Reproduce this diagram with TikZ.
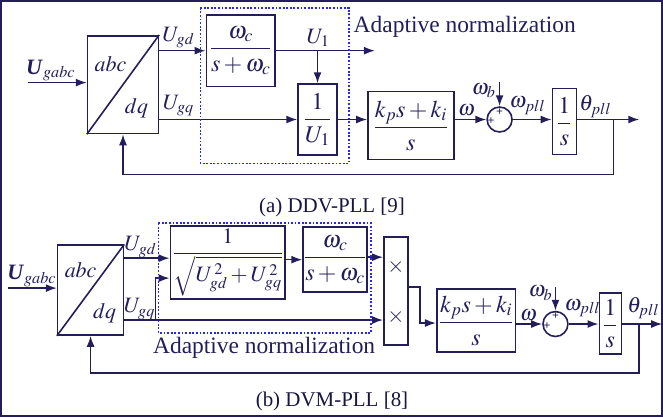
\documentclass[tikz,border=0pt]{standalone}
\usepackage{amsmath}
\usepackage{mathptmx}
\usepackage{fontspec}
\setmainfont{Liberation Serif}
\usetikzlibrary{arrows.meta,calc}
\definecolor{ink}{RGB}{35,30,90}
\definecolor{dotblue}{RGB}{40,40,235}
\begin{document}
\begin{tikzpicture}[x=1pt,y=-1pt,
  every path/.style={draw=ink,line width=1.6pt},
  blk/.style={draw=ink,line width=1.6pt,inner sep=0pt,text=ink,
    font=\fontsize{24}{25}\selectfont},
  sumc/.style={circle,draw=ink,line width=1.6pt,minimum size=25pt,inner sep=0pt},
  arr/.style={-{Latex[length=11pt,width=8pt]}},
  lbl/.style={text=ink,font=\fontsize{22}{23}\selectfont,inner sep=0pt},
  sgn/.style={text=ink,font=\fontsize{12}{12}\selectfont\bfseries,inner sep=0pt},
  normbox/.style={draw=dotblue,line width=1.6pt,dash pattern=on 1.8pt off 1.8pt},
  note/.style={text=ink,font=\rmfamily\fontsize{23.5}{25}\selectfont,inner sep=0pt},
  capt/.style={text=ink!70!black,font=\rmfamily\fontsize{21}{23}\selectfont,inner sep=0pt}]
\useasboundingbox (0,0) rectangle (663,416);

% ---------------- (a) DDV-PLL ----------------
\node[blk,minimum width=71pt,minimum height=98pt] (cvA) at (122.5,84) {};
\draw (cvA.south west) -- (cvA.north east);
\node[lbl] (abcA) at (110,63) {$abc$};
\node[lbl] (dqA) at (136,108) {$dq$};
\coordinate (inA) at (27,82);
\draw[arr] (inA) -- (inA -| cvA.west);
\node[lbl] (ugA) at (50,70) {$\textbf{\textit{U}}_{gabc}$};

\node[blk,minimum width=69pt,minimum height=72pt] (lpfA) at (240.5,50) {$\dfrac{\omega_c}{s+\omega_c}$};
\draw[arr] (cvA.east |- lpfA) -- (lpfA.west);
\node[lbl] (ugdA) at (178,37) {$U_{gd}$};

\node[blk,minimum width=39pt,minimum height=71pt] (invA) at (317.5,119) {$\dfrac{1}{U_1}$};
\draw[arr] (cvA.east |- invA) -- (invA.west);
\node[lbl] (ugqA) at (178,105) {$U_{gq}$};

\coordinate (u1A) at (375,50);
\draw[arr] (lpfA.east) -- (u1A);
\draw[arr] (invA.north |- lpfA) -- (invA.north);
\node[lbl] (u1lA) at (318,37) {$U_1$};

\draw[normbox] (200,7) rectangle (349,163);
\node[note,anchor=west] (anA) at (353,26) {Adaptive normalization};

\node[blk,minimum width=86pt,minimum height=68pt] (piA) at (411,125) {$\dfrac{k_p s+k_i}{s}$};
\draw[arr] (invA.east) -- (invA.east -| piA.west);

\node[sumc] (sumA) at (500,119) {};
\node[sgn] (spA) at (500,111.5) {+};
\node[sgn] (slA) at (491.5,121) {+};
\draw[arr] (piA.east |- sumA) -- (sumA.west);
\node[lbl] (wA) at (467,110) {$\omega$};
\coordinate (wbA) at (500,81);
\draw[arr] (wbA) -- (sumA.north);
\node[lbl] (wblA) at (484,90) {$\omega_b$};

\node[blk,minimum width=24pt,minimum height=66pt] (intA) at (565,121) {$\dfrac{1}{s}$};
\draw[arr] (sumA.east) -- (sumA.east -| intA.west);
\node[lbl] (wpA) at (528,105) {$\omega_{pll}$};

\coordinate (thA) at (640,119);
\draw[arr] (intA.east |- sumA) -- (thA);
\node[lbl] (thlA) at (596,106) {$\theta_{pll}$};
\coordinate (fbA) at (614,119);
\draw[arr] (fbA) -- (fbA |- 0,174) -| (cvA.south);

\node[capt] (capA) at (332,207) {(a) DDV-PLL [9]};

% ---------------- (b) DVM-PLL ----------------
\node[blk,minimum width=66pt,minimum height=90pt] (cvB) at (90,290) {};
\draw (cvB.south west) -- (cvB.north east);
\node[lbl] (abcB) at (80,270) {$abc$};
\node[lbl] (dqB) at (104,313) {$dq$};
\coordinate (inB) at (7,288);
\draw[arr] (inB) -- (inB -| cvB.west);
\node[lbl] (ugB) at (31,276) {$\textbf{\textit{U}}_{gabc}$};

\node[blk,font=\fontsize{22}{23}\selectfont,minimum width=115pt,minimum height=73pt] (nrmB) at (227.5,262.5)
  {$\dfrac{1}{\sqrt{U_{gd}^{\,2}+U_{gq}^{\,2}}}$};
\coordinate (dB) at (123,258);
\draw[arr] (dB) -- (dB -| nrmB.west);
\node[lbl] (ugdB) at (140,247) {$U_{gd}$};

\node[blk,minimum width=64pt,minimum height=65pt] (lpfB) at (335,259.5) {$\dfrac{\omega_c}{s+\omega_c}$};
\draw[arr] (nrmB.east |- lpfB) -- (lpfB.west);

\node[blk,minimum width=24pt,minimum height=108pt] (mulB) at (396,291) {};
\node[lbl] (m1B) at (396,267) {$\times$};
\node[lbl] (m2B) at (396,317) {$\times$};
\draw[arr] (lpfB.east |- 0,257) -- (mulB.west |- 0,257);

\coordinate (qB) at (123,320);
\coordinate (brB) at (155,320);
\draw[arr] (qB) -- (qB -| mulB.west);
\draw[arr] (brB) -- (brB |- 0,278) -- (nrmB.west |- 0,278);
\node[lbl] (ugqB) at (139,309) {$U_{gq}$};

\draw[normbox] (158,223) rectangle (371,333);
\node[note] (anB) at (264,348) {Adaptive normalization};

\node[blk,minimum width=79pt,minimum height=63pt] (piB) at (476.5,320.5) {$\dfrac{k_p s+k_i}{s}$};
\coordinate (moB) at (420,287);
\draw[arr] (mulB.east |- moB) -- (moB) -- (moB |- 0,323) -- (piB.west |- 0,323);

\node[sumc] (sumB) at (556,324) {};
\node[sgn] (spB) at (556,316.5) {+};
\node[sgn] (slB) at (547.5,326) {+};
\draw[arr] (piB.east |- sumB) -- (sumB.west);
\node[lbl] (wB) at (529,315) {$\omega$};
\coordinate (wbB) at (556,287);
\draw[arr] (wbB) -- (sumB.north);
\node[lbl] (wblB) at (541,293) {$\omega_b$};

\node[blk,minimum width=22pt,minimum height=61pt] (intB) at (611,323.5) {$\dfrac{1}{s}$};
\draw[arr] (sumB.east) -- (sumB.east -| intB.west);
\node[lbl] (wpB) at (583,308) {$\omega_{pll}$};

\coordinate (thB) at (663,324);
\draw[arr] (intB.east |- sumB) -- (thB);
\node[lbl] (thlB) at (644,308) {$\theta_{pll}$};
\coordinate (fbB) at (640,324);
\draw[arr] (fbB) -- (fbB |- 0,373) -| (cvB.south);

\node[capt] (capB) at (332,402) {(b) DVM-PLL [8]};
\end{tikzpicture}
\end{document}
